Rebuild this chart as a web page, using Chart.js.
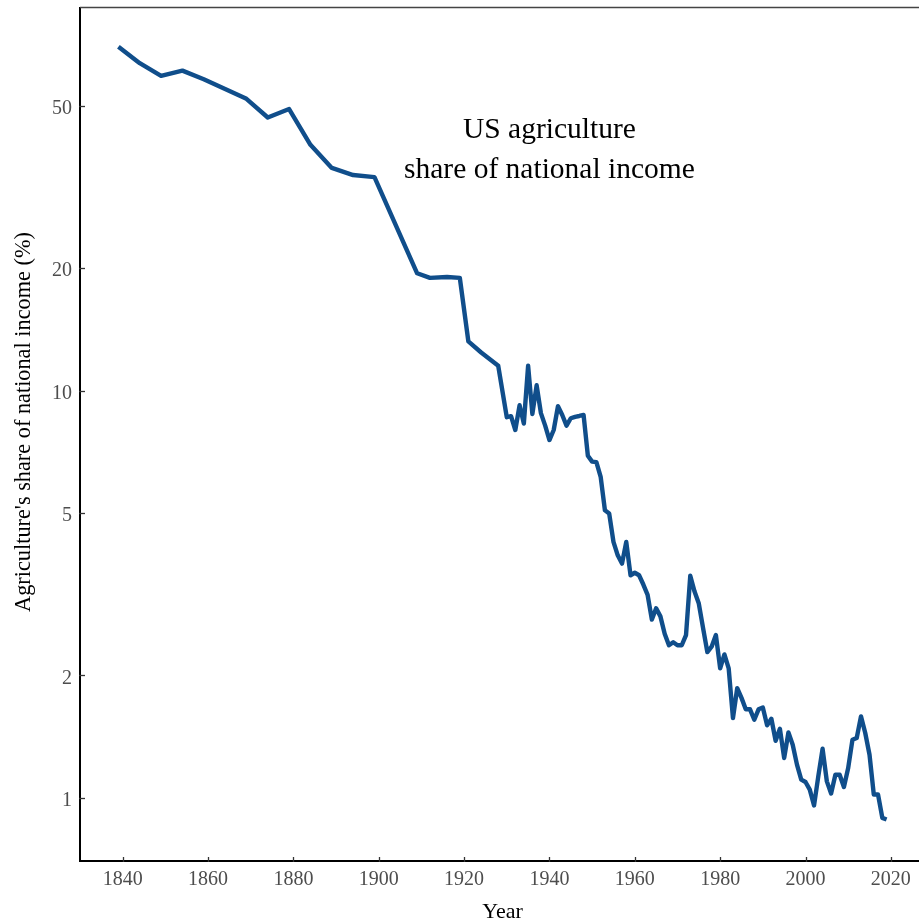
<!DOCTYPE html>
<html>
<head>
<meta charset="utf-8">
<script src="https://cdn.jsdelivr.net/npm/chart.js@4.4.0/dist/chart.umd.min.js"></script>
<style>
html,body{margin:0;padding:0;overflow:hidden;background:#fff;}
canvas{display:block;}
</style>
</head>
<body>
<canvas id="c" width="926" height="922" style="width:926px;height:922px"></canvas>
<script>
const years = [1839,1844,1849,1854,1859,1864,1869,1874,1879,1884,1889,1894,1899,1909,1912,1916,1919,1921,1924,1928,
  1930,1931,1932,1933,1934,1935,1936,1937,1938,1939,
  1940,1941,1942,1943,1944,1945,1946,1947,1948,1949,
  1950,1951,1952,1953,1954,1955,1956,1957,1958,1959,
  1960,1961,1962,1963,1964,1965,1966,1967,1968,1969,
  1970,1971,1972,1973,1974,1975,1976,1977,1978,1979,
  1980,1981,1982,1983,1984,1985,1986,1987,1988,1989,
  1990,1991,1992,1993,1994,1995,1996,1997,1998,1999,
  2000,2001,2002,2003,2004,2005,2006,2007,2008,2009,
  2010,2011,2012,2013,2014,2015,2016,2017,2018,2019];
const shares = [69.8,63.6,59.2,61.0,58.1,55.0,52.0,46.8,49.1,40.1,35.2,33.8,33.4,19.4,18.9,19.0,18.9,13.2,12.4,11.5,
  8.6,8.65,8.0,9.2,8.3,11.5,8.76,10.3,8.8,8.2,
  7.56,8.0,9.15,8.71,8.2,8.55,8.62,8.66,8.71,6.92,
  6.69,6.67,6.14,5.08,4.99,4.25,3.94,3.76,4.25,3.52,
  3.57,3.52,3.34,3.15,2.74,2.92,2.79,2.53,2.37,2.41,
  2.37,2.37,2.51,3.51,3.21,3.0,2.61,2.28,2.35,2.51,
  2.08,2.25,2.08,1.57,1.86,1.76,1.65,1.65,1.555,1.65,
  1.667,1.507,1.564,1.381,1.478,1.253,1.448,1.35,1.207,1.109,
  1.094,1.048,0.958,1.13,1.32,1.098,1.025,1.14,1.14,1.064,
  1.184,1.389,1.403,1.585,1.443,1.276,1.019,1.019,0.893,0.885];
const xTicks = [1840,1860,1880,1900,1920,1940,1960,1980,2000,2020];
const yTicks = [1,2,5,10,20,50];
const titleLines = ["US agriculture","share of national income"];
const xTitle = "Year";
const yTitle = "Agriculture's share of national income (%)";

const SERIF = "'Liberation Serif','Times New Roman','DejaVu Serif',serif";

const decor = {
  id: 'decor',
  afterDraw(chart) {
    const {ctx, chartArea: a, scales: {x, y}} = chart;
    ctx.save();
    // top panel border
    ctx.strokeStyle = '#444';
    ctx.lineWidth = 1.6;
    ctx.beginPath();
    ctx.moveTo(a.left, a.top - 0.5);
    ctx.lineTo(chart.width, a.top - 0.5);
    ctx.stroke();
    // inward ticks
    ctx.strokeStyle = '#333';
    ctx.lineWidth = 1.3;
    x.ticks.forEach(t => {
      const px = Math.round(x.getPixelForValue(t.value)) + 0.5;
      ctx.beginPath(); ctx.moveTo(px, a.bottom + 1); ctx.lineTo(px, a.bottom - 4); ctx.stroke();
    });
    y.ticks.forEach(t => {
      const py = Math.round(y.getPixelForValue(t.value)) + 0.5;
      ctx.beginPath(); ctx.moveTo(a.left - 1, py); ctx.lineTo(a.left + 5, py); ctx.stroke();
    });
    // chart title inside the panel
    ctx.fillStyle = '#000';
    ctx.font = '29.5px ' + SERIF;
    ctx.textAlign = 'center';
    ctx.textBaseline = 'alphabetic';
    const tx = x.getPixelForValue(1940);
    ctx.fillText(titleLines[0], tx, a.top + 130);
    ctx.fillText(titleLines[1], tx, a.top + 170);
    // x axis title
    ctx.font = '22px ' + SERIF;
    ctx.fillText(xTitle, (a.left + a.right) / 2, 917.5);
    // y axis title
    ctx.font = '22.3px ' + SERIF;
    ctx.translate(29.5, 422);
    ctx.rotate(-Math.PI / 2);
    ctx.fillText(yTitle, 0, 0);
    ctx.restore();
  }
};

new Chart(document.getElementById('c'), {
  type: 'line',
  data: {
    datasets: [{
      data: years.map((yr, i) => ({x: yr, y: shares[i]})),
      borderColor: '#104E8B',
      borderWidth: 4.4,
      borderJoinStyle: 'round',
      borderCapStyle: 'butt',
      pointRadius: 0,
      pointHoverRadius: 0,
      tension: 0,
      fill: false
    }]
  },
  options: {
    responsive: false,
    animation: false,
    events: [],
    layout: {padding: {left: 0, right: 1, top: 8, bottom: 0}},
    plugins: {legend: {display: false}, tooltip: {enabled: false}, title: {display: false}},
    scales: {
      x: {
        type: 'linear',
        min: 1830,
        max: 2028,
        afterBuildTicks: s => { s.ticks = xTicks.map(v => ({value: v})); },
        afterFit: s => { s.height = 61; s.paddingLeft = 0; s.paddingRight = 0; },
        grid: {display: false, drawTicks: false},
        border: {display: true, color: '#000', width: 2},
        ticks: {
          autoSkip: false, maxRotation: 0, padding: 7,
          color: '#4d4d4d',
          font: {family: SERIF, size: 20},
          callback: v => String(v)
        }
      },
      y: {
        type: 'logarithmic',
        min: 0.711,
        max: 86.9,
        afterBuildTicks: s => { s.ticks = yTicks.map(v => ({value: v})); },
        afterFit: s => { s.width = 80; s.paddingTop = 0; s.paddingBottom = 0; },
        grid: {display: false, drawTicks: false},
        border: {display: true, color: '#000', width: 2},
        ticks: {
          autoSkip: false, padding: 8, labelOffset: 3,
          color: '#4d4d4d',
          font: {family: SERIF, size: 20},
          callback: v => String(v)
        }
      }
    }
  },
  plugins: [decor]
});
</script>
</body>
</html>
